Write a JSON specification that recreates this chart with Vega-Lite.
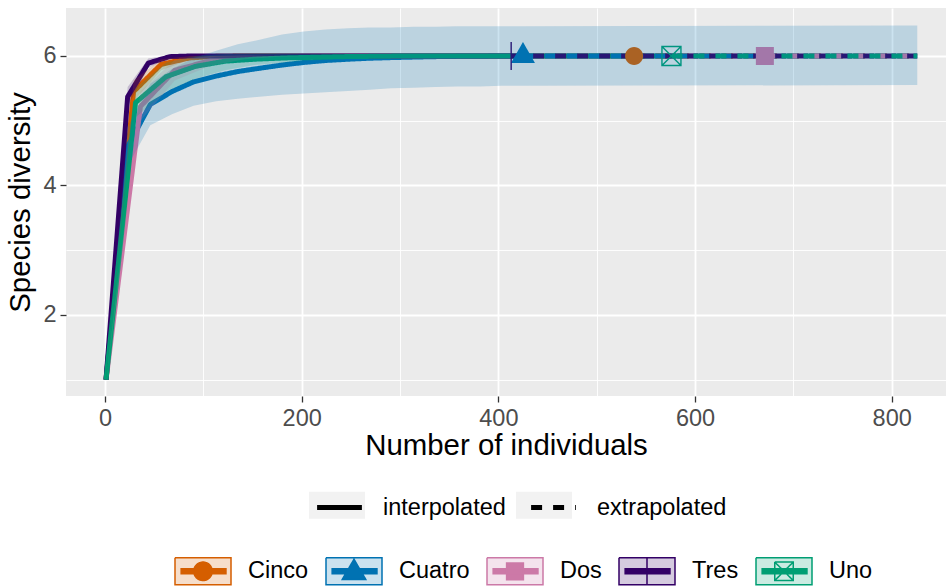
{
  "$schema": "https://vega.github.io/schema/vega-lite/v6.json",
  "width": 880,
  "height": 388,
  "autosize": {"type": "none"},
  "padding": {"left": 66, "top": 8, "right": 2, "bottom": 190},
  "background": "white",
  "config": {
    "font": "Liberation Sans",
    "view": {"fill": "#EBEBEB", "stroke": null},
    "axis": {
      "domain": false,
      "gridColor": "#FFFFFF",
      "tickColor": "#333333",
      "tickSize": 6,
      "tickWidth": 1.3,
      "labelColor": "#4D4D4D",
      "labelFontSize": 23.5,
      "labelFont": "Liberation Sans",
      "titleFont": "Liberation Sans",
      "titleFontSize": 29.4,
      "titleFontWeight": "normal",
      "titleColor": "#000000"
    },
    "legend": {"labelFont": "Liberation Sans", "labelFontSize": 23.5, "labelColor": "#000000", "padding": 0}
  },
  "datasets": {
    "curves": [
      {"site": "Cinco", "method": "interpolated", "n": 1, "qD": 1, "lo": 1, "hi": 1},
      {"site": "Cinco", "method": "interpolated", "n": 29, "qD": 5.45, "lo": 5.3, "hi": 5.62},
      {"site": "Cinco", "method": "interpolated", "n": 57, "qD": 5.87, "lo": 5.78, "hi": 5.95},
      {"site": "Cinco", "method": "interpolated", "n": 86, "qD": 5.97, "lo": 5.94, "hi": 6.0},
      {"site": "Cinco", "method": "interpolated", "n": 114, "qD": 5.995, "lo": 5.99, "hi": 6.0},
      {"site": "Cinco", "method": "interpolated", "n": 142, "qD": 6, "lo": 6, "hi": 6},
      {"site": "Cinco", "method": "interpolated", "n": 538, "qD": 6, "lo": 6, "hi": 6},
      {"site": "Cuatro", "method": "interpolated", "n": 1, "qD": 1, "lo": 1, "hi": 1},
      {"site": "Cuatro", "method": "interpolated", "n": 23, "qD": 4.6, "lo": 4.3, "hi": 4.9},
      {"site": "Cuatro", "method": "interpolated", "n": 46, "qD": 5.25, "lo": 4.93, "hi": 5.57},
      {"site": "Cuatro", "method": "interpolated", "n": 68, "qD": 5.45, "lo": 5.1, "hi": 5.8},
      {"site": "Cuatro", "method": "interpolated", "n": 90, "qD": 5.6, "lo": 5.23, "hi": 5.97},
      {"site": "Cuatro", "method": "interpolated", "n": 113, "qD": 5.69, "lo": 5.3, "hi": 6.08},
      {"site": "Cuatro", "method": "interpolated", "n": 135, "qD": 5.76, "lo": 5.34, "hi": 6.18},
      {"site": "Cuatro", "method": "interpolated", "n": 157, "qD": 5.81, "lo": 5.37, "hi": 6.25},
      {"site": "Cuatro", "method": "interpolated", "n": 180, "qD": 5.86, "lo": 5.4, "hi": 6.33},
      {"site": "Cuatro", "method": "interpolated", "n": 202, "qD": 5.9, "lo": 5.42, "hi": 6.38},
      {"site": "Cuatro", "method": "interpolated", "n": 224, "qD": 5.93, "lo": 5.44, "hi": 6.41},
      {"site": "Cuatro", "method": "interpolated", "n": 247, "qD": 5.95, "lo": 5.46, "hi": 6.43},
      {"site": "Cuatro", "method": "interpolated", "n": 269, "qD": 5.965, "lo": 5.48, "hi": 6.44},
      {"site": "Cuatro", "method": "interpolated", "n": 291, "qD": 5.975, "lo": 5.5, "hi": 6.44},
      {"site": "Cuatro", "method": "interpolated", "n": 314, "qD": 5.983, "lo": 5.51, "hi": 6.45},
      {"site": "Cuatro", "method": "interpolated", "n": 336, "qD": 5.99, "lo": 5.52, "hi": 6.45},
      {"site": "Cuatro", "method": "interpolated", "n": 358, "qD": 5.994, "lo": 5.53, "hi": 6.46},
      {"site": "Cuatro", "method": "interpolated", "n": 381, "qD": 5.997, "lo": 5.53, "hi": 6.46},
      {"site": "Cuatro", "method": "interpolated", "n": 403, "qD": 5.999, "lo": 5.54, "hi": 6.46},
      {"site": "Cuatro", "method": "interpolated", "n": 425, "qD": 6, "lo": 5.54, "hi": 6.46},
      {"site": "Dos", "method": "interpolated", "n": 1, "qD": 1, "lo": 1, "hi": 1},
      {"site": "Dos", "method": "interpolated", "n": 36, "qD": 5.22, "lo": 5.0, "hi": 5.45},
      {"site": "Dos", "method": "interpolated", "n": 71, "qD": 5.78, "lo": 5.62, "hi": 5.94},
      {"site": "Dos", "method": "interpolated", "n": 107, "qD": 5.93, "lo": 5.85, "hi": 6.0},
      {"site": "Dos", "method": "interpolated", "n": 142, "qD": 5.98, "lo": 5.95, "hi": 6.01},
      {"site": "Dos", "method": "interpolated", "n": 177, "qD": 5.995, "lo": 5.99, "hi": 6.0},
      {"site": "Dos", "method": "interpolated", "n": 212, "qD": 6, "lo": 6, "hi": 6},
      {"site": "Dos", "method": "interpolated", "n": 671, "qD": 6, "lo": 6, "hi": 6},
      {"site": "Tres", "method": "interpolated", "n": 1, "qD": 1, "lo": 1, "hi": 1},
      {"site": "Tres", "method": "interpolated", "n": 23, "qD": 5.37, "lo": 5.22, "hi": 5.52},
      {"site": "Tres", "method": "interpolated", "n": 44, "qD": 5.89, "lo": 5.82, "hi": 5.96},
      {"site": "Tres", "method": "interpolated", "n": 66, "qD": 5.99, "lo": 5.97, "hi": 6.01},
      {"site": "Tres", "method": "interpolated", "n": 88, "qD": 6, "lo": 6, "hi": 6},
      {"site": "Tres", "method": "interpolated", "n": 413, "qD": 6, "lo": 6, "hi": 6},
      {"site": "Uno", "method": "interpolated", "n": 1, "qD": 1, "lo": 1, "hi": 1},
      {"site": "Uno", "method": "interpolated", "n": 31, "qD": 5.28, "lo": 5.05, "hi": 5.5},
      {"site": "Uno", "method": "interpolated", "n": 62, "qD": 5.68, "lo": 5.45, "hi": 5.9},
      {"site": "Uno", "method": "interpolated", "n": 92, "qD": 5.84, "lo": 5.65, "hi": 6.0},
      {"site": "Uno", "method": "interpolated", "n": 122, "qD": 5.92, "lo": 5.78, "hi": 6.03},
      {"site": "Uno", "method": "interpolated", "n": 152, "qD": 5.95, "lo": 5.86, "hi": 6.04},
      {"site": "Uno", "method": "interpolated", "n": 183, "qD": 5.97, "lo": 5.9, "hi": 6.04},
      {"site": "Uno", "method": "interpolated", "n": 213, "qD": 5.98, "lo": 5.93, "hi": 6.03},
      {"site": "Uno", "method": "interpolated", "n": 243, "qD": 5.99, "lo": 5.96, "hi": 6.02},
      {"site": "Uno", "method": "interpolated", "n": 274, "qD": 5.995, "lo": 5.98, "hi": 6.01},
      {"site": "Uno", "method": "interpolated", "n": 304, "qD": 6, "lo": 6, "hi": 6},
      {"site": "Uno", "method": "interpolated", "n": 576, "qD": 6, "lo": 6, "hi": 6},
      {"site": "Cinco", "method": "extrapolated", "n": 538, "qD": 6, "lo": 6, "hi": 6},
      {"site": "Cinco", "method": "extrapolated", "n": 826, "qD": 6, "lo": 6, "hi": 6},
      {"site": "Cuatro", "method": "extrapolated", "n": 425, "qD": 6, "lo": 5.54, "hi": 6.46},
      {"site": "Cuatro", "method": "extrapolated", "n": 826, "qD": 6, "lo": 5.55, "hi": 6.47},
      {"site": "Dos", "method": "extrapolated", "n": 671, "qD": 6, "lo": 6, "hi": 6},
      {"site": "Dos", "method": "extrapolated", "n": 826, "qD": 6, "lo": 6, "hi": 6},
      {"site": "Tres", "method": "extrapolated", "n": 413, "qD": 6, "lo": 6, "hi": 6},
      {"site": "Tres", "method": "extrapolated", "n": 826, "qD": 6, "lo": 6, "hi": 6},
      {"site": "Uno", "method": "extrapolated", "n": 576, "qD": 6, "lo": 6, "hi": 6},
      {"site": "Uno", "method": "extrapolated", "n": 826, "qD": 6, "lo": 6, "hi": 6}
    ],
    "obs": [
      {"site": "Cinco", "n": 538, "qD": 6},
      {"site": "Cuatro", "n": 425, "qD": 6},
      {"site": "Dos", "n": 671, "qD": 6},
      {"site": "Tres", "n": 413, "qD": 6},
      {"site": "Uno", "n": 576, "qD": 6}
    ]
  },
  "layer": [
    {
      "data": {"name": "curves"},
      "mark": {"type": "line", "strokeWidth": 5, "strokeJoin": "round", "strokeCap": "butt"},
      "encoding": {
        "x": {
          "field": "n", "type": "quantitative", "title": "Number of individuals",
          "scale": {"domain": [-39.7, 855.2], "nice": false, "zero": false},
          "axis": {
            "values": [0, 100, 200, 300, 400, 500, 600, 700, 800],
            "format": "d",
            "labelExpr": "datum.value % 200 === 0 ? datum.label : ''",
            "gridWidth": {"condition": {"test": "datum.value % 200 === 0", "value": 1.8}, "value": 0.9},
            "tickOpacity": {"condition": {"test": "datum.value % 200 === 0", "value": 1}, "value": 0},
            "labelOverlap": false, "labelFlush": false, "labelPadding": 4, "titlePadding": 2
          }
        },
        "y": {
          "field": "qD", "type": "quantitative", "title": "Species diversity",
          "scale": {"domain": [0.749, 6.741], "nice": false, "zero": false},
          "axis": {
            "values": [1, 2, 3, 4, 5, 6],
            "format": "d",
            "labelExpr": "datum.value % 2 === 0 ? datum.label : ''",
            "gridWidth": {"condition": {"test": "datum.value % 2 === 0", "value": 1.8}, "value": 0.9},
            "tickOpacity": {"condition": {"test": "datum.value % 2 === 0", "value": 1}, "value": 0},
            "labelOverlap": false, "labelFlush": false, "labelPadding": 4, "titlePadding": 7
          }
        },
        "stroke": {
          "field": "site", "type": "nominal",
          "scale": {"range": ["#D55E00", "#0072B2", "#CC79A7", "#330066", "#009E73"]},
          "legend": {
            "orient": "none", "legendX": 108, "legendY": 534, "direction": "horizontal", "zindex": 2,
            "title": null, "symbolType": "M-1,-0.48H1V0.48H-1Z", "symbolSize": 3136,
            "labelOffset": 16, "columnPadding": 14, "labelOpacity": 0,
            "encode": {"symbols": {"update": {
              "opacity": {"value": 1},
              "fillOpacity": {"value": 1},
              "strokeOpacity": {"value": 1},
              "strokeWidth": {"value": 1.5},
              "strokeDash": {"value": [1, 0]},
              "shape": [
                {"test": "datum.value === 'Cinco'", "value": "M-1,-0.48L1,-0.48L1,0.48L-1,0.48L-1,-0.48L-1,0.48L1,0.48L1,-0.48ZM-0.78,-0.09H0.82V0.09H-0.78ZM-0.33,0A0.33,0.33 0 1,1 0.33,0A0.33,0.33 0 1,1 -0.33,0Z"},
                {"test": "datum.value === 'Cuatro'", "value": "M-1,-0.48L1,-0.48L1,0.48L-1,0.48L-1,-0.48L-1,0.48L1,0.48L1,-0.48ZM-0.78,-0.09H0.82V0.09H-0.78ZM0,-0.43L0.42,0.29L-0.42,0.29Z"},
                {"test": "datum.value === 'Dos'", "value": "M-1,-0.48L1,-0.48L1,0.48L-1,0.48L-1,-0.48L-1,0.48L1,0.48L1,-0.48ZM-0.78,-0.09H0.82V0.09H-0.78ZM-0.3,-0.3H0.3V0.3H-0.3Z"},
                {"test": "datum.value === 'Tres'", "value": "M-1,-0.48L1,-0.48L1,0.48L-1,0.48L-1,-0.48L-1,0.48L1,0.48L1,-0.48ZM-0.78,-0.09H0.82V0.09H-0.78ZM0,-0.48V0.48"},
                {"value": "M-1,-0.48L1,-0.48L1,0.48L-1,0.48L-1,-0.48L-1,0.48L1,0.48L1,-0.48ZM-0.78,-0.09H0.82V0.09H-0.78ZM-0.33,-0.33L0.33,-0.33L0.33,0.33L-0.33,0.33L-0.33,-0.33L-0.33,0.33L0.33,0.33L0.33,-0.33L-0.33,-0.33ZM-0.33,-0.33L0.33,0.33M0.33,-0.33L-0.33,0.33"}
              ],
              "fill": [
                {"test": "datum.value === 'Cinco'", "value": "#D55E00"},
                {"test": "datum.value === 'Cuatro'", "value": "#0072B2"},
                {"test": "datum.value === 'Dos'", "value": "#CC79A7"},
                {"test": "datum.value === 'Tres'", "value": "#330066"},
                {"value": "#009E73"}
              ]
            }}}
          }
        },
        "strokeDash": {
          "field": "method", "type": "nominal",
          "scale": {"domain": ["interpolated", "extrapolated"], "range": [[1, 0], [11, 11]]},
          "legend": {
            "orient": "none", "legendX": 243, "legendY": 469, "direction": "horizontal", "zindex": 2,
            "title": null, "symbolType": "M-0.8,0H0.8", "symbolSize": 3136,
            "labelOffset": 13, "columnPadding": 15,
            "encode": {"symbols": {"update": {"stroke": {"value": "#000000"}, "strokeWidth": {"value": 5}, "opacity": {"value": 1}, "strokeOpacity": {"value": 1}, "fill": {"value": "transparent"}}}}
          }
        },
        "opacity": {
          "field": "method", "type": "nominal", "sort": ["interpolated", "extrapolated"],
          "scale": {"range": [1, 1]},
          "legend": {
            "orient": "none", "legendX": 243, "legendY": 469, "direction": "horizontal", "zindex": 1,
            "title": null, "symbolType": "M-1,-0.48H1V0.48H-1Z", "symbolSize": 3136,
            "labelOffset": 13, "columnPadding": 15, "labelOpacity": 0,
            "encode": {"symbols": {"update": {"fill": {"value": "#F2F2F2"}, "fillOpacity": {"value": 1}, "stroke": {"value": "transparent"}, "strokeWidth": {"value": 0}}}}
          }
        }
      }
    },
    {
      "data": {"name": "obs"},
      "transform": [{"filter": "datum.site === 'Cinco' || datum.site === 'Cuatro' || datum.site === 'Dos'"}],
      "mark": {"type": "point", "filled": true, "opacity": 1, "size": 400},
      "encoding": {
        "x": {"field": "n", "type": "quantitative", "title": "Number of individuals"},
        "y": {"field": "qD", "type": "quantitative", "title": "Species diversity"},
        "color": {"field": "site", "type": "nominal", "scale": {"range": ["#D55E00", "#0072B2", "#CC79A7", "#330066", "#009E73"]}, "legend": null},
        "shape": {
          "field": "site", "type": "nominal",
          "scale": {"range": [
            "M-0.9,0A0.9,0.9 0 1,1 0.9,0A0.9,0.9 0 1,1 -0.9,0Z",
            "M0,-1.4L1.2,0.7L-1.2,0.7Z",
            "M-0.9,-0.9H0.9V0.9H-0.9Z",
            "M0,-1.4V1.4",
            "M-0.95,-0.95H0.95V0.95H-0.95ZM-0.95,-0.95L0.95,0.95M0.95,-0.95L-0.95,0.95"
          ]},
          "legend": null
        }
      }
    },
    {
      "data": {"name": "obs"},
      "transform": [{"filter": "datum.site === 'Tres' || datum.site === 'Uno'"}],
      "mark": {"type": "point", "filled": false, "opacity": 1, "size": 400, "strokeWidth": 1.4},
      "encoding": {
        "x": {"field": "n", "type": "quantitative", "title": "Number of individuals"},
        "y": {"field": "qD", "type": "quantitative", "title": "Species diversity"},
        "color": {"field": "site", "type": "nominal", "legend": null},
        "shape": {"field": "site", "type": "nominal", "legend": null}
      }
    },
    {
      "data": {"name": "curves"},
      "mark": {"type": "area", "opacity": 0.2},
      "encoding": {
        "x": {"field": "n", "type": "quantitative", "title": "Number of individuals"},
        "y": {"field": "lo", "type": "quantitative", "title": "Species diversity"},
        "y2": {"field": "hi"},
        "fill": {
          "field": "site", "type": "nominal",
          "scale": {"domain": ["Cinco", "Cuatro", "Dos", "Tres", "Uno"], "range": ["#D55E00", "#0072B2", "#CC79A7", "#330066", "#009E73"]},
          "legend": {
            "orient": "none", "legendX": 108, "legendY": 534, "direction": "horizontal", "zindex": 1,
            "title": null, "symbolType": "M-1,-0.48H1V0.48H-1Z", "symbolSize": 3136,
            "symbolStrokeWidth": 1.5, "symbolStrokeColor": "transparent",
            "labelOffset": 16, "columnPadding": 14
          }
        }
      }
    }
  ]
}
